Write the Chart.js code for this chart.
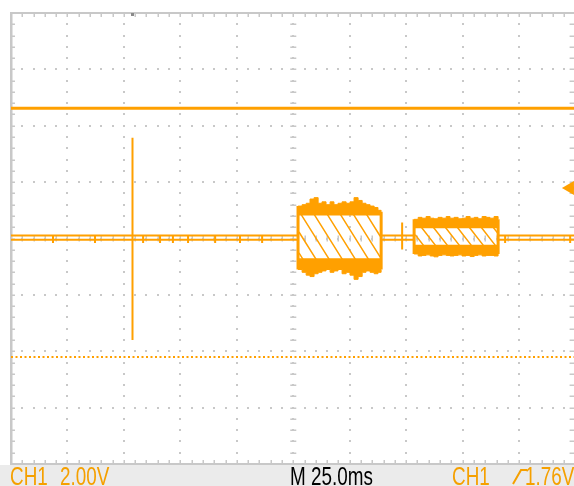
<!DOCTYPE html>
<html lang="en">
<head>
<meta charset="UTF-8">
<title>CH1 capture</title>
<script src="https://cdn.jsdelivr.net/npm/chart.js"></script>
<style>
  body { margin: 0; background: #fff; }
  .screen { position: relative; width: 574px; height: 486px; overflow: hidden; }
  #scope { position: absolute; left: 0; top: 0; }
  .status { position: absolute; left: 0; top: 465px; width: 574px; height: 21px; background: #ebebeb; }
  .status span { position: absolute; top: -1px; font: 25px "Liberation Sans", Arial, sans-serif; line-height: 25px;
                 transform: scaleX(0.755); transform-origin: 0 0; white-space: pre; }
  .status svg { position: absolute; top: 3px; }
  .ch { color: #f5a000; }
  .tb { color: #000; }
</style>
</head>
<body>
<div class="screen">
  <canvas id="scope" width="574" height="486"></canvas>
  <div class="status">
    <span class="ch" style="left:10px">CH1</span>
    <span class="ch" style="left:60px">2.00V</span>
    <span class="tb" style="left:290px">M 25.0ms</span>
    <span class="ch" style="left:452px">CH1</span>
    <svg style="left:512px" width="16" height="17"><polyline points="1,16 9,2 15,2" fill="none" stroke="#f5a000" stroke-width="2"/></svg>
    <span class="ch" style="left:525px">1.76V</span>
  </div>
</div>
<script>
const TRACE = '#ffa000';
const GRID = '#c8c8c8';

// time in ms (25 ms/div), voltage in V (2 V/div)
const timeMax = 249.3;
const voltMin = -8, voltMax = 8;

const refLevel = 4.62;      // solid line near the top
const cursorLevel = -4.2;   // dotted line
const trigLevel = 1.79;     // trigger arrow on the right
const trigTime = 53.8;

const baseHigh = 0.11, baseLow = -0.04, noiseLow = -0.16;
const baseRuns = [[0, 127.3], [163.7, 178.5], [215.7, 249.3]];
const baseNoise = [18.6, 37.2, 58.5, 66.0, 71.7, 78.4, 90.4, 101.4, 111.2, 218.8, 247.6];

const spike = [53.8, 3.57, -3.6];
const glitch = [173.2, 0.57, -0.39];

const burst1Time = [127.1, 128.9, 130.7, 132.4, 134.2, 136.0, 137.7, 139.5, 141.3, 143.0, 144.8, 146.6, 148.4, 150.1, 151.9, 153.7, 155.5, 157.2, 159.0, 160.8, 162.5, 163.9];
const burst1Top = [1.15, 1.2, 1.25, 1.4, 1.45, 1.25, 1.3, 1.2, 1.3, 1.2, 1.25, 1.3, 1.25, 1.3, 1.45, 1.35, 1.25, 1.2, 1.15, 1.1, 1.0, 0.95];
const burst1Bot = [-1.1, -1.2, -1.3, -1.35, -1.25, -1.2, -1.15, -1.1, -1.2, -1.15, -1.1, -1.25, -1.2, -1.3, -1.45, -1.35, -1.2, -1.15, -1.2, -1.25, -1.2, -1.1];
const burst1Inner = [0.82, -0.7];
const burst1Hatch = [
  [127.5, -0.51, 129.8, -0.8], [127.5, 0.23, 135.6, -0.8], [128.1, 0.9, 141.4, -0.8], [133.9, 0.9, 147.2, -0.8],
  [139.7, 0.9, 153.0, -0.8], [145.5, 0.9, 158.8, -0.8], [151.3, 0.9, 163.5, -0.66], [157.1, 0.9, 163.5, 0.08]
];

const burst2Time = [178.5, 180.3, 182.0, 183.8, 185.6, 187.3, 189.1, 190.9, 192.7, 194.4, 196.2, 198.0, 199.7, 201.5, 203.3, 205.1, 206.8, 208.6, 210.4, 212.1, 213.9, 215.7];
const burst2Top = [0.68, 0.75, 0.72, 0.78, 0.72, 0.7, 0.75, 0.72, 0.78, 0.72, 0.75, 0.7, 0.72, 0.78, 0.72, 0.75, 0.7, 0.78, 0.75, 0.72, 0.78, 0.68];
const burst2Bot = [-0.55, -0.62, -0.6, -0.58, -0.62, -0.65, -0.6, -0.58, -0.6, -0.62, -0.6, -0.58, -0.62, -0.6, -0.64, -0.6, -0.58, -0.62, -0.6, -0.6, -0.62, -0.55];
const burst2Inner = [0.36, -0.22];
const burst2Hatch = [
  [179, 0.13, 183, -0.28], [181.8, 0.39, 188.3, -0.28], [187.1, 0.39, 193.6, -0.28], [192.4, 0.39, 198.9, -0.28],
  [197.7, 0.39, 204.2, -0.28], [203.0, 0.39, 209.5, -0.28], [208.3, 0.39, 214.8, -0.28], [213.6, 0.39, 215.5, 0.19]
];

// turn [[x1,y1,x2,y2], ...] into one broken line
function segments(list) {
  const out = [];
  list.forEach(s => {
    out.push({x: s[0], y: s[1]}, {x: s[2], y: s[3]}, {x: s[2], y: null});
  });
  return out;
}
function trace(times, values) {
  return times.map((t, i) => ({x: t, y: values[i]}));
}
function line(data, extra) {
  return Object.assign({data: data, borderColor: TRACE, backgroundColor: TRACE, borderWidth: 2, pointRadius: 0}, extra || {});
}

const datasets = [
  line([{x: 0, y: refLevel}, {x: timeMax, y: refLevel}], {borderWidth: 3}),
  line([{x: 0, y: cursorLevel}, {x: timeMax, y: cursorLevel}], {borderDash: [2, 2.5]}),
  line(segments(baseRuns.map(r => [r[0], baseHigh, r[1], baseHigh]))),
  line(segments(baseRuns.map(r => [r[0], baseLow, r[1], baseLow]))),
  line(segments(baseNoise.map(t => [t, baseHigh, t, noiseLow]))),
  line(segments([[spike[0], spike[1], spike[0], spike[2]], [glitch[0], glitch[1], glitch[0], glitch[2]]])),

  line(trace(burst1Time, burst1Top), {stepped: true, borderWidth: 1, fill: {value: burst1Inner[0]}}),
  line(trace(burst1Time, burst1Bot), {stepped: true, borderWidth: 1, fill: {value: burst1Inner[1]}}),
  line(segments([[burst1Time[0], burst1Top[0], burst1Time[0], burst1Bot[0]],
                 [burst1Time[21], burst1Top[21], burst1Time[21], burst1Bot[21]]]), {borderWidth: 3}),
  line(segments(burst1Hatch), {borderWidth: 1.5}),

  line(trace(burst2Time, burst2Top), {stepped: true, borderWidth: 1, fill: {value: burst2Inner[0]}}),
  line(trace(burst2Time, burst2Bot), {stepped: true, borderWidth: 1, fill: {value: burst2Inner[1]}}),
  line(segments([[burst2Time[0], burst2Top[0], burst2Time[0], burst2Bot[0]],
                 [burst2Time[21], burst2Top[21], burst2Time[21], burst2Bot[21]]]), {borderWidth: 3}),
  line(segments(burst2Hatch), {borderWidth: 1.5}),

  line([{x: 247.5, y: trigLevel}, {x: timeMax, y: trigLevel}], {borderWidth: 3}),
  line([{x: 247.5, y: trigLevel}], {pointRadius: 8, pointStyle: 'triangle', rotation: -90, pointBorderWidth: 0})
];

// dotted graticule, border ticks and centre axis ticks
const graticule = {
  id: 'graticule',
  beforeDatasetsDraw(chart) {
    const ctx = chart.ctx, xs = chart.scales.x, ys = chart.scales.y;
    const px = t => xs.getPixelForValue(t), py = v => ys.getPixelForValue(v);
    const left = px(0), right = px(250), top = py(voltMax), bottom = py(voltMin);
    ctx.save();
    ctx.fillStyle = GRID;
    // borders
    ctx.fillRect(left - 1, top - 1, 2.5, bottom - top + 2);
    ctx.fillRect(left - 1, top - 1, right - left + 2, 2);
    ctx.fillRect(left - 1, bottom - 1, right - left + 2, 2);
    // dots along major lines
    for (let i = 1; i < 10; i++) {
      for (let j = 1; j < 40; j++) ctx.fillRect(Math.round(px(i * 25)) - 1, Math.round(py(-8 + j * 0.4)) - 1, 2, 2);
    }
    for (let k = 1; k < 8; k++) {
      for (let j = 1; j < 50; j++) ctx.fillRect(Math.round(px(j * 5)) - 1, Math.round(py(-8 + k * 2)) - 1, 2, 2);
    }
    // minor ticks on the borders and the centre axes
    for (let j = 1; j < 50; j++) {
      const x = Math.round(px(j * 5));
      ctx.fillRect(x - 0.5, top, 1.5, 4);
      ctx.fillRect(x - 0.5, bottom - 4, 1.5, 4);
      ctx.fillRect(x - 0.5, py(0) - 3, 1.5, 6);
    }
    for (let j = 1; j < 40; j++) {
      const y = Math.round(py(-8 + j * 0.4));
      ctx.fillRect(left, y - 0.5, 4, 1.5);
      ctx.fillRect(right - 6, y - 0.5, 5, 1.5);
      ctx.fillRect(px(125) - 3, y - 0.5, 6, 1.5);
    }
    // trigger position mark on the top border
    ctx.fillStyle = '#8a8a8a';
    ctx.fillRect(px(trigTime) - 1.5, top, 3, 3);
    ctx.restore();
  }
};

new Chart(document.getElementById('scope').getContext('2d'), {
  type: 'line',
  data: {datasets: datasets},
  options: {
    responsive: false,
    animation: false,
    devicePixelRatio: 1,
    layout: {autoPadding: false, padding: {left: 11, top: 13, right: 0, bottom: 22}},
    plugins: {legend: {display: false}, tooltip: {enabled: false}},
    scales: {
      x: {type: 'linear', min: 0, max: timeMax, display: false},
      y: {type: 'linear', min: voltMin, max: voltMax, display: false}
    },
    elements: {line: {tension: 0}}
  },
  plugins: [graticule]
});
</script>
</body>
</html>
